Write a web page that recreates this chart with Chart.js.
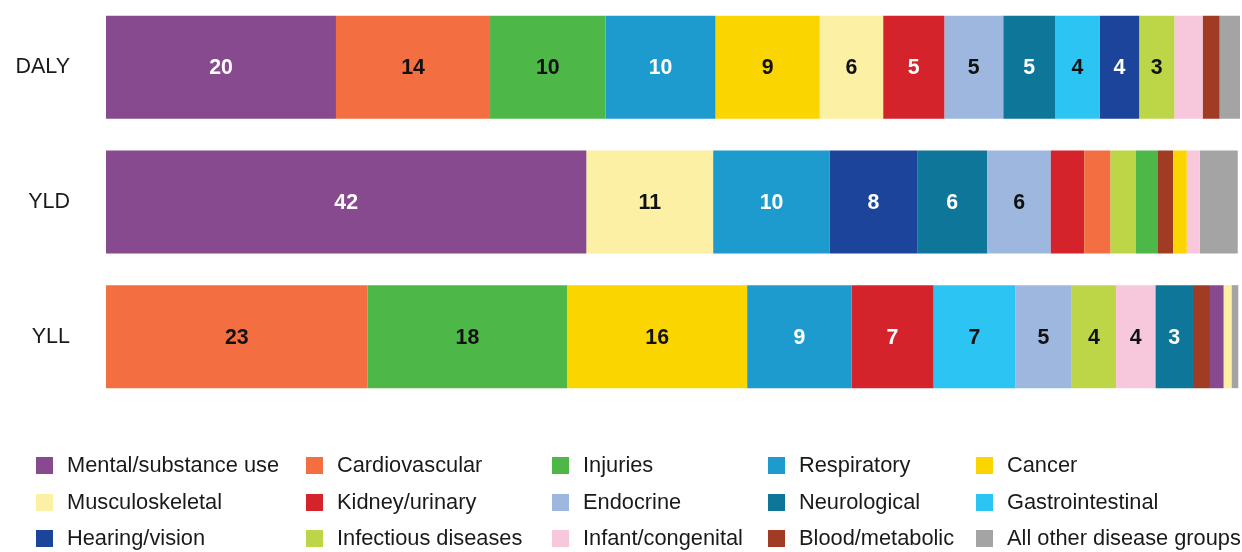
<!DOCTYPE html>
<html>
<head>
<meta charset="utf-8">
<script src="https://cdn.jsdelivr.net/npm/chart.js@4/dist/chart.umd.min.js"></script>
<style>
  body { margin: 0; background: #fff; width: 1242px; height: 552px; overflow: hidden; position: relative; font-family: Arial, "Liberation Sans", sans-serif; }
  #chart { position: absolute; left: 0; top: 0; }
  #legend { position: absolute; left: 0; top: 0; width: 1242px; height: 552px; pointer-events: none; }
  .item { position: absolute; height: 24px; display: flex; align-items: center; color: #1a1a1a; font-size: 21.8px; white-space: nowrap; }
  .item span.box { width: 17px; height: 17px; margin-right: 14px; flex: none; }
</style>
</head>
<body>
<canvas id="chart" width="1242" height="404"></canvas>
<div id="legend"></div>
<script>
// measures, top to bottom
const measures = ['DALY', 'YLD', 'YLL'];

// disease groups (legend order)
const groups = ['Mental/substance use', 'Cardiovascular', 'Injuries', 'Respiratory', 'Cancer',
  'Musculoskeletal', 'Kidney/urinary', 'Endocrine', 'Neurological', 'Gastrointestinal',
  'Hearing/vision', 'Infectious diseases', 'Infant/congenital', 'Blood/metabolic', 'All other disease groups'];

// share of each measure (%), same order as groups
const dalyVals = [20.3, 13.6, 10.2, 9.7, 9.2, 5.6, 5.4, 5.2, 4.6, 3.9, 3.5, 3.1, 2.5, 1.5, 1.8];
const yldVals  = [42.4, 2.3, 1.9, 10.3, 1.2, 11.2, 2.95, 5.6, 6.2, 0, 7.7, 2.25, 1.15, 1.4, 3.35];
const yllVals  = [1.2, 23.1, 17.6, 9.2, 15.9, 0.7, 7.25, 5.0, 3.3, 7.2, 0, 3.9, 3.5, 1.5, 0.6];

const colors = ['#884A8F', '#F36F42', '#4DB848', '#1E9BCE', '#FBD500',
  '#FBF0A3', '#D4232B', '#9EB7DE', '#0E7698', '#2CC4F3',
  '#1C449B', '#BCD647', '#F7C7DB', '#A03C24', '#A4A4A4'];
const textColors = ['#fff', '#111', '#111', '#fff', '#111',
  '#111', '#fff', '#111', '#fff', '#111',
  '#fff', '#111', '#111', '#fff', '#111'];

const series = [dalyVals, yldVals, yllVals];
const otherIdx = groups.length - 1;

// each bar is sorted biggest first, "all other" always at the end
const ranges = series.map(vals => {
  const order = vals.map((v, i) => i).filter(i => i !== otherIdx)
    .sort((a, b) => vals[b] - vals[a]);
  order.push(otherIdx);
  const r = new Array(vals.length).fill(null);
  let acc = 0;
  order.forEach(i => {
    if (vals[i] > 0) r[i] = [acc, acc + vals[i]];
    acc += vals[i];
  });
  return r;
});
const xMax = Math.max(...series.map(v => v.reduce((a, b) => a + b, 0)));

const datasets = groups.map((g, gi) => ({
  label: g,
  data: measures.map((m, mi) => ranges[mi][gi]),
  backgroundColor: colors[gi],
  borderWidth: 0,
  borderSkipped: false,
  grouped: false,
  barPercentage: 0.765,
  categoryPercentage: 1
}));

const labelPlugin = {
  id: 'segLabels',
  afterDatasetsDraw(chart) {
    const ctx = chart.ctx;
    ctx.save();
    ctx.font = 'bold 21.3px Arial, "Liberation Sans", sans-serif';
    ctx.textAlign = 'center';
    ctx.textBaseline = 'middle';
    chart.data.datasets.forEach((ds, gi) => {
      if (gi === otherIdx) return;
      const meta = chart.getDatasetMeta(gi);
      meta.data.forEach((el, mi) => {
        const v = series[mi][gi];
        if (!v || v < 3) return;
        ctx.fillStyle = textColors[gi];
        ctx.fillText(Math.round(v), (el.x + el.base) / 2, el.y + 1);
      });
    });
    ctx.restore();
  }
};

new Chart(document.getElementById('chart'), {
  type: 'bar',
  data: { labels: measures, datasets },
  options: {
    indexAxis: 'y',
    responsive: false,
    animation: false,
    layout: { padding: { top: 0, right: 2, bottom: 0, left: 0 } },
    plugins: { legend: { display: false }, tooltip: { enabled: false } },
    scales: {
      x: { display: false, min: 0, max: xMax },
      y: {
        grid: { display: false, drawTicks: false },
        border: { display: false },
        ticks: { color: '#1a1a1a', padding: 36, font: { size: 21.5, family: 'Arial, "Liberation Sans", sans-serif' } },
        afterFit(scale) {
          scale.width = 106;
          scale.paddingTop = 0;
          scale.paddingBottom = 0;
        }
      }
    }
  },
  plugins: [labelPlugin]
});

// legend, 5 columns x 3 rows
const colX = [36, 306, 552, 768, 976];
const rowY = [465, 502, 538];
const legend = document.getElementById('legend');
groups.forEach((g, i) => {
  const d = document.createElement('div');
  d.className = 'item';
  d.style.left = colX[i % 5] + 'px';
  d.style.top = (rowY[Math.floor(i / 5)] - 12) + 'px';
  d.innerHTML = '<span class="box" style="background:' + colors[i] + '"></span>' + g;
  legend.appendChild(d);
});
</script>
</body>
</html>
